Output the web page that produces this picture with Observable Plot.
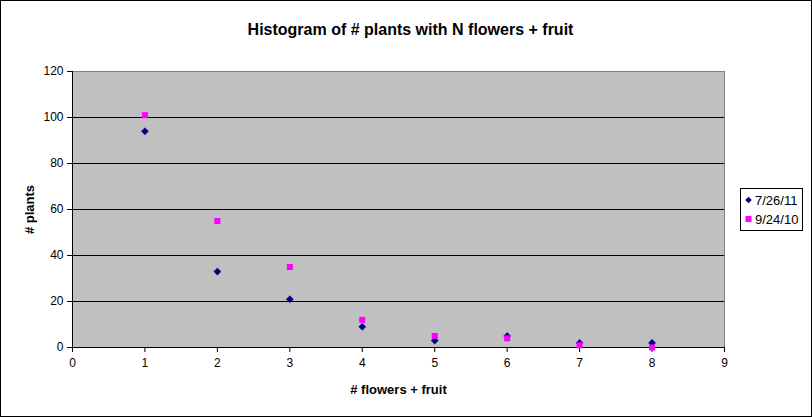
<!DOCTYPE html>
<html>
<head>
<meta charset="utf-8">
<script src="https://cdn.jsdelivr.net/npm/d3@7"></script>
<script src="https://cdn.jsdelivr.net/npm/@observablehq/plot@0.6"></script>
<style>
  html, body { margin: 0; padding: 0; background: #fff; }
  #chart svg { display: block; }
</style>
</head>
<body>
<div id="chart"></div>
<script>
const title = "Histogram of # plants with N flowers + fruit";
const xLabel = "# flowers + fruit";
const yLabel = "# plants";
const flowers = [1, 2, 3, 4, 5, 6, 7, 8];
const seriesNames = ["7/26/11", "9/24/10"];
const plants0726 = [94, 33, 21, 9, 3, 5, 2, 2];
const plants0924 = [101, 55, 35, 12, 5, 4, 1, 0];
const xTicks = [0, 1, 2, 3, 4, 5, 6, 7, 8, 9];
const yTicks = [0, 20, 40, 60, 80, 100, 120];
const gridTicks = [20, 40, 60, 80, 100];
const colors = ["#000080", "#FF00FF"];
const symbols = ["diamond2", "square"];

const d1 = flowers.map((x, i) => ({x, y: plants0726[i]}));
const d2 = flowers.map((x, i) => ({x, y: plants0924[i]}));

const W = 812, H = 417;
const font = "Arial, 'Liberation Sans', sans-serif";

const plot = Plot.plot({
  width: W,
  height: H,
  marginLeft: 72,
  marginRight: 88,
  marginTop: 71,
  marginBottom: 70,
  style: {fontFamily: font, fontSize: "12px", color: "#000", background: "#fff"},
  x: {domain: [0, 9], ticks: xTicks},
  y: {domain: [0, 120], ticks: yTicks},
  marks: [
    Plot.frame({fill: "#C0C0C0", stroke: "#808080"}),
    Plot.ruleY(gridTicks, {stroke: "#000", strokeWidth: 1}),
    Plot.axisX({ticks: xTicks, tickSize: 5, tickPadding: 6, label: null, stroke: "#000", fill: "#000"}),
    Plot.axisY({ticks: yTicks, tickSize: 5, tickPadding: 4, label: null, stroke: "#000", fill: "#000"}),
    Plot.ruleY([0], {stroke: "#000"}),
    Plot.ruleX([0], {stroke: "#000"}),
    Plot.dot(d1, {x: "x", y: "y", symbol: () => symbols[0], fill: colors[0], stroke: colors[0], strokeWidth: 0.5, r: 3.2}),
    Plot.dot(d2, {x: "x", y: "y", symbol: () => symbols[1], fill: colors[1], stroke: "none", r: 3.4}),
    Plot.text([title], {frameAnchor: "top", lineAnchor: "middle", dy: -42, dx: 12, fontSize: 16, fontWeight: "bold", fill: "#000"}),
    Plot.text([xLabel], {frameAnchor: "bottom", lineAnchor: "middle", dy: 42, fontSize: 13, fontWeight: "bold", fill: "#000"}),
    Plot.text([yLabel], {frameAnchor: "left", textAnchor: "middle", lineAnchor: "middle", dx: -43, rotate: -90, fontSize: 13, fontWeight: "bold", fill: "#000"})
  ]
});

document.getElementById("chart").appendChild(plot);

// Chart border and legend
const svg = d3.select(plot);
svg.append("rect")
  .attr("x", 0.5).attr("y", 0.5)
  .attr("width", W - 1).attr("height", H - 1)
  .attr("fill", "none").attr("stroke", "#000");

const lg = svg.append("g").attr("text-anchor", "start");
lg.append("rect")
  .attr("x", 740.5).attr("y", 188.5)
  .attr("width", 62).attr("height", 42)
  .attr("fill", "#fff").attr("stroke", "#000");
seriesNames.forEach((name, i) => {
  const cy = 200 + i * 19;
  const sym = d3.symbol(i === 0 ? d3.symbolDiamond2 : d3.symbolSquare, i === 0 ? 28 : 36)();
  lg.append("path")
    .attr("d", sym)
    .attr("transform", `translate(748.5,${cy})`)
    .attr("fill", colors[i]);
  lg.append("text")
    .attr("x", 755)
    .attr("y", cy)
    .attr("dy", "0.35em")
    .attr("text-anchor", "start")
    .attr("font-family", font)
    .attr("font-size", 13)
    .attr("fill", "#000")
    .text(name);
});
</script>
</body>
</html>
